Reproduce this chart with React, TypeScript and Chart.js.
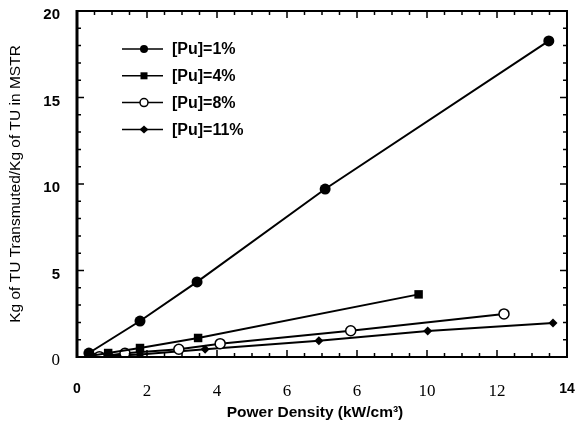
import React, { useEffect, useRef } from 'react';
import { Chart, registerables } from 'chart.js';

Chart.register(...registerables);

// ---- data ----
const xTickLabels = ['0', '2', '4', '6', '6', '10', '12', '14'];
const yTickLabels = ['0', '5', '10', '15', '20'];
const seriesLabels = ['[Pu]=1%', '[Pu]=4%', '[Pu]=8%', '[Pu]=11%'];
const xAxisTitle = 'Power Density (kW/cm\u00B3)';
const yAxisTitle = 'Kg of TU Transmuted/Kg of TU in MSTR';

const pu1X = [0.34, 1.8, 3.43, 7.09, 13.48];
const pu1Y = [0.23, 2.08, 4.34, 9.71, 18.27];
const pu4X = [0.34, 0.89, 1.8, 3.46, 9.76];
const pu4Y = [0.05, 0.23, 0.52, 1.1, 3.62];
const pu8X = [0.64, 1.37, 2.91, 4.09, 7.82, 12.2];
const pu8Y = [0.02, 0.21, 0.45, 0.77, 1.52, 2.49];
const pu11X = [0.34, 1.8, 3.66, 6.91, 10.02, 13.6];
const pu11Y = [0.0, 0.15, 0.45, 0.94, 1.5, 1.97];

const zip = (xs: number[], ys: number[]) => xs.map((x, i) => ({ x, y: ys[i] }));

const SANS = '"Liberation Sans", Arial, sans-serif';
const SERIF = '"Liberation Serif", "Times New Roman", serif';

type MarkerKind = 'dot' | 'square' | 'open' | 'diamond';
const markerKinds: MarkerKind[] = ['dot', 'square', 'open', 'diamond'];

function drawMarker(ctx: CanvasRenderingContext2D, kind: MarkerKind, x: number, y: number, s: number) {
  ctx.save();
  ctx.fillStyle = '#000';
  ctx.strokeStyle = '#000';
  ctx.lineWidth = 1.5;
  ctx.beginPath();
  if (kind === 'dot') {
    ctx.arc(x, y, s, 0, Math.PI * 2);
    ctx.fill();
  } else if (kind === 'square') {
    ctx.rect(x - s, y - s, 2 * s, 2 * s);
    ctx.fill();
  } else if (kind === 'open') {
    ctx.arc(x, y, s, 0, Math.PI * 2);
    ctx.fillStyle = '#fff';
    ctx.fill();
    ctx.stroke();
  } else {
    ctx.moveTo(x - s * 1.1, y);
    ctx.lineTo(x, y - s);
    ctx.lineTo(x + s * 1.1, y);
    ctx.lineTo(x, y + s);
    ctx.closePath();
    ctx.fill();
  }
  ctx.restore();
}

const framePlugin = {
  id: 'frame',
  afterDraw(chart: any) {
    const { ctx, chartArea } = chart;
    const { left, right, top, bottom } = chartArea;
    const xs = chart.scales.x;
    const ys = chart.scales.y;
    ctx.save();
    ctx.strokeStyle = '#000';
    ctx.lineWidth = 2;
    ctx.strokeRect(left, top, right - left, bottom - top);
    ctx.lineWidth = 3;
    ctx.beginPath();
    ctx.moveTo(left, top - 1);
    ctx.lineTo(left, bottom + 1);
    ctx.stroke();
    ctx.lineWidth = 1.5;
    ctx.beginPath();
    for (let v = 0; v <= 20; v += 1) {
      const py = ys.getPixelForValue(v);
      const len = v % 5 === 0 ? 7 : 4;
      ctx.moveTo(left, py);
      ctx.lineTo(left + len, py);
      ctx.moveTo(right, py);
      ctx.lineTo(right - len, py);
    }
    for (let v = 0; v <= 14; v += 0.5) {
      const px = xs.getPixelForValue(v);
      const len = v % 2 === 0 ? 7 : 4;
      ctx.moveTo(px, bottom);
      ctx.lineTo(px, bottom - len);
      ctx.moveTo(px, top);
      ctx.lineTo(px, top + len);
    }
    ctx.stroke();

    // legend
    chart.data.datasets.forEach((ds: any, i: number) => {
      const yy = top + 38 + i * 26.8;
      const x0 = left + 45;
      ctx.lineWidth = 1.5;
      ctx.beginPath();
      ctx.moveTo(x0, yy);
      ctx.lineTo(x0 + 41, yy);
      ctx.stroke();
      const sizes = [4, 3.5, 4, 4];
      drawMarker(ctx, markerKinds[i], x0 + 22, yy, sizes[i]);
      ctx.fillStyle = '#000';
      ctx.font = `bold 16px ${SANS}`;
      ctx.textAlign = 'left';
      ctx.textBaseline = 'middle';
      ctx.fillText(ds.label, x0 + 50, yy + 1);
    });

    // axis titles
    ctx.fillStyle = '#000';
    ctx.font = `15.5px ${SANS}`;
    ctx.textAlign = 'center';
    ctx.textBaseline = 'middle';
    ctx.save();
    ctx.translate(16, 184);
    ctx.rotate(-Math.PI / 2);
    ctx.fillText(yAxisTitle, 0, 0);
    ctx.restore();
    ctx.font = `bold 15.5px ${SANS}`;
    ctx.fillText(xAxisTitle, 315, 413);
    ctx.restore();
  },
};

const zeroPad = (s: any) => {
  s.paddingLeft = 0;
  s.paddingRight = 0;
  s.paddingTop = 0;
  s.paddingBottom = 0;
};

export default function App() {
  const ref = useRef<HTMLCanvasElement | null>(null);
  useEffect(() => {
    if (!ref.current) return;
    const common = { borderColor: '#000', borderWidth: 2, backgroundColor: '#000', pointBorderColor: '#000', tension: 0, showLine: true };
    const chart = new Chart(ref.current, {
      type: 'scatter',
      data: {
        datasets: [
          { ...common, label: seriesLabels[0], data: zip(pu1X, pu1Y), pointStyle: 'circle', pointRadius: 5.5, pointBackgroundColor: '#000', pointBorderWidth: 0 },
          { ...common, label: seriesLabels[1], data: zip(pu4X, pu4Y), pointStyle: 'rect', pointRadius: 6, pointBackgroundColor: '#000', pointBorderWidth: 0 },
          { ...common, label: seriesLabels[2], data: zip(pu8X, pu8Y), pointStyle: 'circle', pointRadius: 5, pointBackgroundColor: '#fff', pointBorderWidth: 1.5 },
          { ...common, label: seriesLabels[3], data: zip(pu11X, pu11Y), pointStyle: 'rectRot', pointRadius: 4.5, pointBackgroundColor: '#000', pointBorderWidth: 0 },
        ],
      },
      options: {
        animation: false,
        responsive: false,
        events: [],
        layout: { padding: { top: 11, right: 9, left: 0, bottom: 0 } },
        plugins: { legend: { display: false }, tooltip: { enabled: false }, title: { display: false } },
        scales: {
          x: {
            type: 'linear',
            min: 0,
            max: 14,
            grid: { display: false, drawTicks: false },
            border: { display: false },
            afterFit: (s: any) => { s.height = 66; zeroPad(s); },
            ticks: {
              stepSize: 2,
              padding: 24,
              color: '#000',
              callback: (_v: any, i: number) => xTickLabels[i],
              font: (c: any) => (c.index === 0 || c.index === xTickLabels.length - 1
                ? { family: SANS, size: 14, weight: 'bold' }
                : { family: SERIF, size: 17, weight: 'normal' }),
            },
          },
          y: {
            type: 'linear',
            min: 0,
            max: 20,
            grid: { display: false, drawTicks: false },
            border: { display: false },
            afterFit: (s: any) => { s.width = 77; zeroPad(s); },
            ticks: {
              stepSize: 5,
              padding: 17,
              labelOffset: 4,
              color: '#000',
              callback: (_v: any, i: number) => yTickLabels[i],
              font: (c: any) => (c.index === 0
                ? { family: SERIF, size: 17, weight: 'normal' }
                : { family: SANS, size: 15, weight: 'bold' }),
            },
          },
        },
      },
      plugins: [framePlugin],
    } as any);
    return () => chart.destroy();
  }, []);
  return (
    <div style={{ position: 'absolute', left: 0, top: 0, width: 576, height: 423, background: '#fff' }}>
      <canvas ref={ref} width={576} height={423} />
    </div>
  );
}
